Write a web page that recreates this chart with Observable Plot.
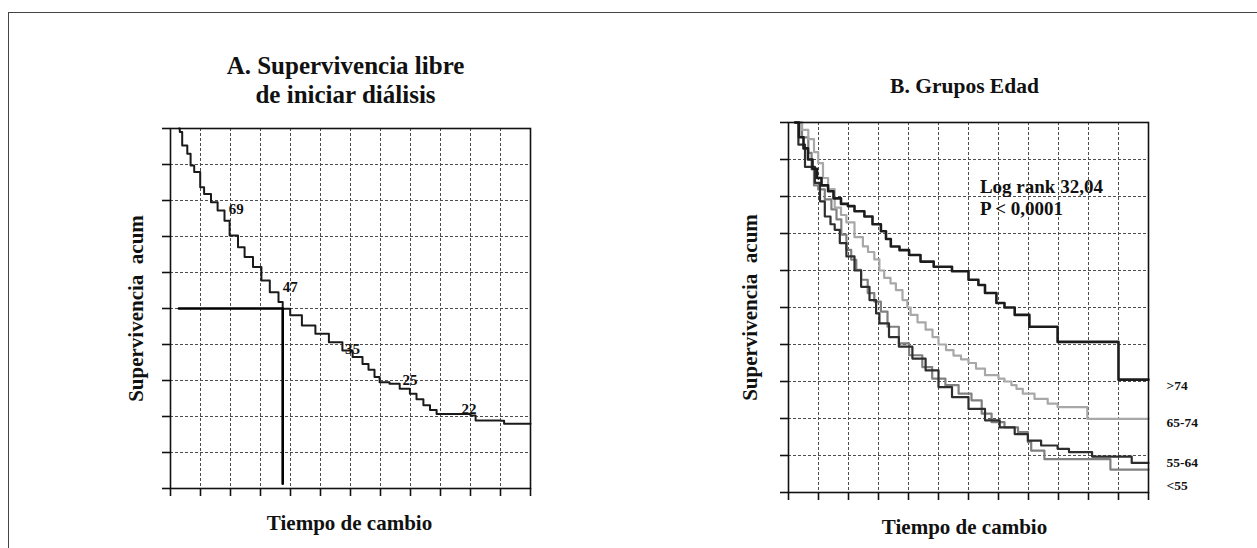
<!DOCTYPE html>
<html>
<head>
<meta charset="utf-8">
<script src="https://cdn.jsdelivr.net/npm/d3@7"></script>
<script src="https://cdn.jsdelivr.net/npm/@observablehq/plot@0.6"></script>
<style>
  html, body { margin: 0; padding: 0; background: #fff; }
  #wrap { position: relative; width: 1257px; height: 548px; overflow: hidden; background: #fff; }
  #border { position: absolute; left: 8px; top: 12px; right: -4px; bottom: -4px;
            border-left: 1.5px solid #444; border-top: 1.5px solid #444; }
  .panel { position: absolute; top: 0; }
  .panel svg { overflow: visible; }
</style>
</head>
<body>
<div id="wrap"><div id="border"></div></div>
<script>
// ---------- data ----------
const xTicks = [0, 1, 2, 3, 4, 5, 6, 7, 8, 9, 10, 11, 12];
const yTicks = [0, 0.1, 0.2, 0.3, 0.4, 0.5, 0.6, 0.7, 0.8, 0.9, 1];

// Panel A: survival free of dialysis
const titleA = ["A. Supervivencia libre\nde iniciar diálisis"];
const timeA = [0.28, 0.31, 0.39, 0.56, 0.67, 0.79, 0.99, 1.12, 1.35, 1.57, 1.8, 1.97, 2.25, 2.47, 2.75, 3.03, 3.31, 3.6, 3.74, 3.99, 4.38, 4.83, 5.28, 5.73, 6.07, 6.4, 6.6, 6.8, 6.97, 7.3, 7.64, 7.98, 8.2, 8.43, 8.65, 8.87, 10.0, 10.17, 11.0, 11.12, 12];
const survA = [1.0, 0.99, 0.953, 0.93, 0.897, 0.879, 0.837, 0.818, 0.795, 0.772, 0.744, 0.703, 0.67, 0.643, 0.615, 0.578, 0.545, 0.518, 0.499, 0.481, 0.453, 0.43, 0.406, 0.383, 0.365, 0.346, 0.33, 0.31, 0.295, 0.291, 0.277, 0.263, 0.248, 0.231, 0.218, 0.207, 0.203, 0.189, 0.188, 0.18, 0.18];
const medianTime = [0.28, 3.74, 3.74];
const medianSurv = [0.5, 0.5, 0.013];
const riskLabels = ["69", "47", "35", "25", "22"];
const riskTime = [2.19, 3.99, 6.07, 7.98, 9.95];
const riskSurv = [0.777, 0.559, 0.388, 0.302, 0.219];

// Panel B: age groups
const titleB = ["B. Grupos Edad"];
const groupNames = [">74", "65-74", "55-64", "<55"];
const time74 = [0.22, 0.35, 0.5, 0.65, 0.8, 0.95, 1.1, 1.32, 1.5, 1.75, 1.98, 2.2, 2.53, 2.8, 3.08, 3.25, 3.41, 3.7, 4.02, 4.4, 4.84, 5.45, 6.0, 6.33, 6.55, 6.93, 7.2, 7.54, 8.03, 8.97, 11.0, 12];
const surv74 = [1.0, 0.96, 0.93, 0.9, 0.875, 0.85, 0.83, 0.814, 0.795, 0.78, 0.774, 0.76, 0.746, 0.725, 0.706, 0.685, 0.665, 0.655, 0.642, 0.624, 0.61, 0.598, 0.575, 0.561, 0.539, 0.512, 0.5, 0.48, 0.448, 0.407, 0.305, 0.305];
const time6574 = [0.33, 0.45, 0.66, 0.85, 0.99, 1.15, 1.32, 1.54, 1.75, 1.93, 2.2, 2.48, 2.65, 2.86, 3.03, 3.19, 3.4, 3.58, 3.8, 3.96, 4.07, 4.3, 4.57, 4.8, 5.0, 5.25, 5.5, 5.75, 6.0, 6.25, 6.55, 7.0, 7.2, 7.43, 7.6, 7.81, 8.2, 8.64, 8.97, 9.96, 12];
const surv6574 = [1.0, 0.98, 0.955, 0.92, 0.89, 0.85, 0.82, 0.77, 0.75, 0.73, 0.69, 0.665, 0.65, 0.63, 0.6, 0.58, 0.565, 0.547, 0.52, 0.5, 0.48, 0.46, 0.44, 0.42, 0.4, 0.385, 0.37, 0.36, 0.35, 0.335, 0.317, 0.308, 0.3, 0.29, 0.28, 0.267, 0.253, 0.24, 0.231, 0.199, 0.199];
const time5564 = [0.22, 0.33, 0.55, 0.88, 1.05, 1.21, 1.4, 1.54, 1.71, 1.93, 2.2, 2.42, 2.7, 2.92, 3.03, 3.35, 3.68, 4.13, 4.57, 5.0, 5.45, 6.0, 6.55, 7.04, 7.54, 7.98, 8.42, 8.97, 9.35, 10.12, 11.44, 12];
const surv5564 = [1.0, 0.94, 0.88, 0.837, 0.787, 0.746, 0.725, 0.71, 0.674, 0.638, 0.6, 0.556, 0.52, 0.484, 0.457, 0.42, 0.394, 0.362, 0.33, 0.285, 0.258, 0.226, 0.195, 0.176, 0.158, 0.14, 0.127, 0.118, 0.109, 0.097, 0.08, 0.08];
const time55 = [0.25, 0.45, 0.66, 0.77, 0.85, 0.99, 1.21, 1.43, 1.6, 1.76, 1.93, 2.09, 2.26, 2.42, 2.64, 2.86, 3.08, 3.3, 3.68, 4.02, 4.46, 4.79, 5.23, 5.67, 6.1, 6.44, 6.77, 7.2, 7.65, 7.98, 8.09, 8.53, 10.73, 12];
const surv55 = [1.0, 0.96, 0.918, 0.873, 0.83, 0.819, 0.792, 0.765, 0.738, 0.697, 0.656, 0.629, 0.602, 0.575, 0.539, 0.516, 0.489, 0.448, 0.403, 0.371, 0.339, 0.308, 0.29, 0.267, 0.249, 0.213, 0.19, 0.176, 0.163, 0.136, 0.113, 0.09, 0.062, 0.062];
const groupLabelSurv = [0.29, 0.19, 0.081, 0.018];
const annotText = ["Log rank 32,04", "P < 0,0001"];
const annotTime = [6.38, 6.38];
const annotSurv = [0.81, 0.75];

const axisLabelX = ["Tiempo de cambio"];
const axisLabelY = ["Supervivencia  acum"];

// ---------- helpers ----------
const toRows = (t, s) => t.map((v, i) => ({t: v, s: s[i]}));
const FONT = "Liberation Serif";
const gridStyle = {stroke: "#4d4d4d", strokeOpacity: 1, strokeWidth: 1, strokeDasharray: "3,2", shapeRendering: "crispEdges"};
const txt = {fontFamily: FONT, fontWeight: "bold", fill: "#111"};

function gridMarks() {
  return [
    Plot.ruleX(xTicks, {x: d => d, ...gridStyle}),
    Plot.ruleY(yTicks, {y: d => d, ...gridStyle})
  ];
}
function axisMarks(ylabDx, xlabDx) {
  return [
    Plot.frame({stroke: "#111", strokeWidth: 1.6}),
    Plot.axisX(xTicks, {tickSize: 8, strokeWidth: 1.6, stroke: "#111", tickFormat: () => "", label: null}),
    Plot.axisY(yTicks, {tickSize: 8, strokeWidth: 1.6, stroke: "#111", tickFormat: () => "", label: null}),
    Plot.text(axisLabelX, {...txt, frameAnchor: "bottom", dy: 41, dx: xlabDx, textAnchor: "middle", lineAnchor: "bottom", fontSize: 21}),
    Plot.text(axisLabelY, {...txt, frameAnchor: "left", dx: ylabDx, rotate: -90, textAnchor: "middle", lineAnchor: "bottom", fontSize: 21})
  ];
}

// ---------- Panel A ----------
const chartA = Plot.plot({
  width: 560, height: 548,
  marginLeft: 170, marginRight: 30, marginTop: 128, marginBottom: 60,
  x: {domain: [0, 12]},
  y: {domain: [0, 1]},
  style: {background: "transparent", overflow: "visible"},
  marks: [
    ...gridMarks(),
    Plot.line(toRows(timeA, survA), {x: "t", y: "s", curve: "step-after", stroke: "#1a1a1a", strokeWidth: 2}),
    Plot.line(toRows(medianTime, medianSurv), {x: "t", y: "s", stroke: "#000", strokeWidth: 2.6}),
    Plot.text(riskLabels, {...txt, x: (d, i) => riskTime[i], y: (d, i) => riskSurv[i], text: d => d, fontSize: 15, lineAnchor: "middle"}),
    ...axisMarks(-28, -1),
    Plot.text(titleA, {...txt, frameAnchor: "top", dx: -5, dy: -26, textAnchor: "middle", lineAnchor: "bottom", fontSize: 25, lineHeight: 1.14})
  ]
});

// ---------- Panel B ----------
const seriesB = [
  {data: toRows(time74, surv74), stroke: "#1c1c1c", w: 2.6},
  {data: toRows(time6574, surv6574), stroke: "#a8a8a8", w: 2.2},
  {data: toRows(time5564, surv5564), stroke: "#2e2e2e", w: 2.2},
  {data: toRows(time55, surv55), stroke: "#808080", w: 2.2}
];
const chartB = Plot.plot({
  width: 557, height: 548,
  marginLeft: 88, marginRight: 109, marginTop: 122, marginBottom: 56,
  x: {domain: [0, 12]},
  y: {domain: [0, 1]},
  style: {background: "transparent", overflow: "visible"},
  marks: [
    ...gridMarks(),
    ...seriesB.slice().reverse().map(g => Plot.line(g.data, {x: "t", y: "s", curve: "step-after", stroke: g.stroke, strokeWidth: g.w})),
    Plot.text(groupNames, {...txt, x: () => 12, y: (d, i) => groupLabelSurv[i], text: d => d, dx: 18, textAnchor: "start", lineAnchor: "middle", fontSize: 13.5}),
    Plot.text(annotText, {...txt, x: (d, i) => annotTime[i], y: (d, i) => annotSurv[i], text: d => d, textAnchor: "start", lineAnchor: "bottom", fontSize: 19}),
    ...axisMarks(-32, -4),
    Plot.text(titleB, {...txt, frameAnchor: "top", dx: -4, dy: -30, textAnchor: "middle", lineAnchor: "bottom", fontSize: 21.5})
  ]
});

for (const [p, left] of [[chartA, 0], [chartB, 700]]) {
  const d = document.createElement("div");
  d.className = "panel";
  d.style.left = left + "px";
  d.appendChild(p);
  document.getElementById("wrap").appendChild(d);
}
</script>
</body>
</html>
